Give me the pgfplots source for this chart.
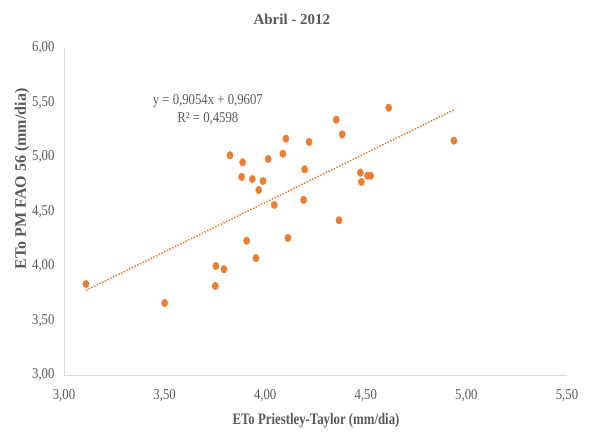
\documentclass[border=0pt]{standalone}
\usepackage{pgfplots}
\pgfplotsset{compat=1.18}
\usepackage{fontspec}
\setmainfont{Liberation Serif}
\newfontfamily\nar[FakeStretch=0.85]{Liberation Serif}
\newfontfamily\narx[FakeStretch=0.8]{Liberation Serif}
\definecolor{txt}{HTML}{595959}
\definecolor{axln}{HTML}{D9D9D9}
\definecolor{dot}{HTML}{ED7D31}

\begin{document}
\begin{tikzpicture}
\useasboundingbox (-64bp,-58bp) rectangle (528bp,375bp);
\begin{axis}[
    at={(0,0)}, anchor=south west,
    scale only axis,
    width=503bp, height=327bp,
    xmin=3, xmax=5.5, ymin=3, ymax=6,
    xtick={3,3.5,4,4.5,5,5.5},
    ytick={3,3.5,4,4.5,5,5.5,6},
    axis lines*=left,
    axis line style={axln, line width=0.9bp},
    major tick length=0pt,
    clip=false,
    /pgf/number format/.cd, use comma, fixed, fixed zerofill, precision=2, assume math mode=true,
    /pgfplots/.cd,
    tick label style={font=\nar\fontsize{15bp}{17bp}\selectfont, text=txt},
    xticklabel style={yshift=-11bp},
    yticklabel style={xshift=-6bp},
    title={Abril - 2012},
    title style={at={(rel axis cs:0.453,1.07)}, anchor=center, font=\bfseries\fontsize{15bp}{18bp}\selectfont, text=txt},
    xlabel={ETo Priestley-Taylor (mm/dia)},
    xlabel style={at={(rel axis cs:0.501,-0.141)}, anchor=center, font=\narx\bfseries\fontsize{16bp}{18bp}\selectfont, text=txt},
    ylabel={ETo PM FAO 56 (mm/dia)},
    ylabel style={at={(rel axis cs:-0.0835,0.6)}, anchor=center, font=\bfseries\fontsize{16bp}{18bp}\selectfont, text=txt},
]
% observed daily values
\addplot[color=dot, only marks, mark=*, mark size=3.8bp, mark options={solid, xscale=0.82}] coordinates {
    (3.109,3.835) (3.500,3.661) (3.755,4.000) (3.795,3.970) (3.752,3.817)
    (3.908,4.232) (3.954,4.073) (4.113,4.257) (3.825,5.016) (3.888,4.951)
    (3.883,4.817) (3.936,4.798) (3.989,4.780) (3.968,4.697) (4.015,4.982)
    (4.088,5.030) (4.103,5.168) (4.218,5.138) (4.196,4.887) (4.045,4.560)
    (4.191,4.606) (4.353,5.342) (4.383,5.208) (4.614,5.452) (4.938,5.150)
    (4.473,4.856) (4.509,4.828) (4.524,4.828) (4.478,4.771) (4.367,4.419)
};
% linear trend y = 0.9054x + 0.9607
\addplot[dot, line width=1.5bp, dash pattern=on 1.5bp off 1.5bp] coordinates {
    (3.109,3.776) (4.938,5.432)
};
\node[align=center, inner sep=0pt, text=txt, font=\nar\fontsize{15bp}{18bp}\selectfont]
    at (rel axis cs:0.286,0.81) {y = 0,9054x + 0,9607\\R² = 0,4598};
\end{axis}
\end{tikzpicture}
\end{document}
